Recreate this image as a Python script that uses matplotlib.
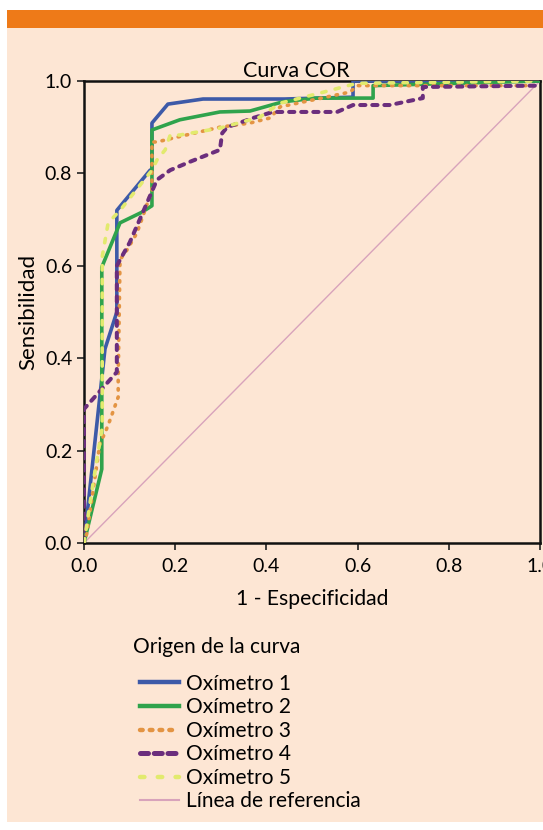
import matplotlib
matplotlib.use("Agg")
import matplotlib.pyplot as plt
from matplotlib.patches import Rectangle
from matplotlib.lines import Line2D

plt.rcParams['font.family'] = ['Lato', 'DejaVu Sans']

# ---- data ----
ox1_x = [0.0, 0.046, 0.072, 0.072, 0.145, 0.149, 0.149, 0.184, 0.261, 0.44, 0.59, 0.59, 1.0]
ox1_y = [0.0, 0.42, 0.50, 0.72, 0.807, 0.807, 0.909, 0.950, 0.961, 0.961, 0.965, 1.0, 1.0]

ox2_x = [0.0, 0.039, 0.039, 0.079, 0.127, 0.149, 0.149, 0.21, 0.298, 0.364, 0.436, 0.51, 0.634, 0.634, 1.0]
ox2_y = [0.0, 0.16, 0.597, 0.693, 0.716, 0.73, 0.894, 0.916, 0.933, 0.935, 0.955, 0.963, 0.963, 0.99, 1.0]

ox3_x = [0.0, 0.006, 0.035, 0.046, 0.057, 0.075, 0.075, 0.079, 0.094, 0.116, 0.134, 0.149, 0.149, 0.16, 0.189, 0.298, 0.364, 0.408, 0.43, 0.583, 0.6, 1.0]
ox3_y = [0.0, 0.02, 0.216, 0.238, 0.266, 0.316, 0.357, 0.613, 0.634, 0.671, 0.721, 0.764, 0.868, 0.868, 0.875, 0.90, 0.909, 0.92, 0.944, 0.976, 0.99, 0.99]

ox4_x = [0.0, 0.0, 0.072, 0.072, 0.079, 0.10, 0.138, 0.16, 0.189, 0.232, 0.298, 0.303, 0.314, 0.371, 0.414, 0.555, 0.59, 0.671, 0.743, 0.743, 1.0]
ox4_y = [0.0, 0.29, 0.37, 0.60, 0.613, 0.65, 0.736, 0.786, 0.807, 0.825, 0.851, 0.887, 0.90, 0.92, 0.933, 0.933, 0.948, 0.948, 0.963, 0.987, 0.99]

ox5_x = [0.0, 0.02, 0.035, 0.04, 0.04, 0.053, 0.079, 0.149, 0.16, 0.178, 0.189, 0.21, 0.298, 0.386, 0.43, 0.518, 0.583, 0.6, 1.0]
ox5_y = [0.0, 0.13, 0.22, 0.25, 0.62, 0.693, 0.72, 0.807, 0.829, 0.851, 0.883, 0.883, 0.898, 0.922, 0.952, 0.974, 0.991, 0.995, 1.0]

ref_x = [0.0, 1.0]
ref_y = [0.0, 1.0]

labels = ["Oxímetro 1", "Oxímetro 2", "Oxímetro 3", "Oxímetro 4", "Oxímetro 5", "Línea de referencia"]
ticks = [0.0, 0.2, 0.4, 0.6, 0.8, 1.0]
tick_labels = ["0.0", "0.2", "0.4", "0.6", "0.8", "1.0"]

# ---- styling ----
W, H = 543, 830
peach = "#FDE6D4"
orange = "#EE7A18"
c1, c2, c3, c4, c5, cref = "#3D5AA8", "#2FA34C", "#E39443", "#6B2E7D", "#E2EA6E", "#D8A3BB"

fig = plt.figure(figsize=(W / 100, H / 100), dpi=100)
fig.patch.set_facecolor("white")
fig.patches.append(Rectangle((7 / W, 1 - 822 / H), 1 - 7 / W, (822 - 28) / H,
                             transform=fig.transFigure, facecolor=peach, edgecolor="none", zorder=-10))
fig.patches.append(Rectangle((7 / W, 1 - 28 / H), 1 - 7 / W, 18 / H,
                             transform=fig.transFigure, facecolor=orange, edgecolor="none", zorder=-10))

ax = fig.add_axes([84 / W, 1 - 543 / H, 456 / W, 462 / H])
ax.set_facecolor(peach)

lw = 2.6
ls3 = (0, (0.4, 1.9))
ls4 = (0, (1.3, 1.7))
ls5 = (0, (1.2, 2.6))
ax.plot(ref_x, ref_y, color=cref, lw=1.0, zorder=2)
ax.plot(ox1_x, ox1_y, color=c1, lw=lw, solid_joinstyle="round", zorder=3)
ax.plot(ox2_x, ox2_y, color=c2, lw=lw, solid_joinstyle="round", zorder=3)
ax.plot(ox3_x, ox3_y, color=c3, lw=lw, linestyle=ls3, dash_capstyle="round", zorder=4)
ax.plot(ox4_x, ox4_y, color=c4, lw=lw + 0.3, linestyle=ls4, dash_capstyle="round", zorder=4)
ax.plot(ox5_x, ox5_y, color=c5, lw=lw, linestyle=ls5, dash_capstyle="round", zorder=5)

ax.set_xlim(0, 1)
ax.set_ylim(0, 1)
ax.set_xticks(ticks)
ax.set_xticklabels(tick_labels)
ax.set_yticks(ticks)
ax.set_yticklabels(tick_labels)
ax.tick_params(axis="both", direction="out", length=5, width=1.2, labelsize=14, color="#222222")
ax.tick_params(axis="x", pad=6)
for s in ax.spines.values():
    s.set_linewidth(1.8)
    s.set_color("#111111")

ax.set_title("Curva COR", fontsize=15.5, pad=3, x=(296 - 84) / 456)
ax.set_xlabel("1 - Especificidad", fontsize=15.2, labelpad=10)
ax.set_ylabel("Sensibilidad", fontsize=16, labelpad=5)

handles = [
    Line2D([], [], color=c1, lw=3.2),
    Line2D([], [], color=c2, lw=3.2),
    Line2D([], [], color=c3, lw=3.2, linestyle=(0, (0.6, 1.6)), dash_capstyle="round"),
    Line2D([], [], color=c4, lw=3.6, linestyle=(0, (1.6, 1.15)), dash_capstyle="round"),
    Line2D([], [], color=c5, lw=3.2, linestyle=(0, (1.0, 3.0)), dash_capstyle="round"),
    Line2D([], [], color=cref, lw=1.5),
]
fig.text(133 / W, 1 - 647 / H, "Origen de la curva", fontsize=15, ha="left", va="center")
leg = fig.legend(handles, labels, loc="upper left",
                 bbox_to_anchor=(121 / W, 1 - 655 / H), frameon=False, fontsize=15,
                 handlelength=1.9, handletextpad=0.3,
                 labelspacing=0.17, alignment="left")

fig.savefig("out.png", dpi=100, facecolor=fig.get_facecolor())
